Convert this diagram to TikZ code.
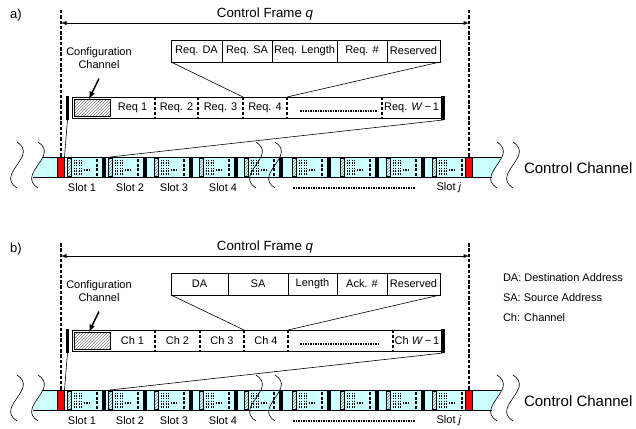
\documentclass[tikz,border=0pt]{standalone}
\usepackage{fontspec}
\setmainfont{Liberation Sans}
\usetikzlibrary{arrows,patterns,positioning}
\definecolor{chancyan}{RGB}{204,255,255}

\tikzset{
  pics/slot/.style = {code={
    \draw[hatchbox] (0,158) rectangle (4,176);
    \foreach \d in {7,9.5,12,14.5}
      \draw[slotdots] (\d,159.5) -- (\d,174.5);
    \draw[dotline] (16.5,170) -- (24,170);
    \draw[slotdash] (30,159) -- (30,176);
    \fill (35,157) rectangle (39,177);
  }},
  pics/band/.style = {code={
    \fill[chancyan] (42,157) -- (501,157) -- (492,177) -- (33,177) -- cycle;
    \draw[line width=0.6pt] (42,157) -- (501,157) (33,177) -- (492,177);
    \foreach \s in {67,108,154,199,244,292,340,386,432}
      \pic at (\s,0) {slot};
    \foreach \w in {17,38,256,275,497,513}
      \draw[wave] (\w,142) .. controls (\w+22,156) and (\w-22,174) .. (\w,188);
    \node[redbox] (-redl) at (61,167) {};
    \node[redbox] (-redr) at (469,167) {};
    \coordinate (-s2) at (110,157);
    \node (-sl1) at (82,188) {Slot 1};
    \node (-sl2) at (130,188) {Slot 2};
    \node (-sl3) at (174,188) {Slot 3};
    \node (-sl4) at (223,188) {Slot 4};
    \draw[dotline] (293,188) -- (415,188);
    \node (-slj) at (449,188) {Slot \textit{j}};
    \node[font=\fontsize{15}{17}\selectfont, anchor=west] (-name) at (524,168) {Control Channel};
  }},
}

\begin{document}
\begin{tikzpicture}[
                   x = 1pt,
                   y = -1pt,
   every node/.style = {inner sep=0pt, outer sep=0pt, font=\fontsize{11}{13}\selectfont},
        field/.style = {draw, line width=0.6pt, minimum height=22pt},
         cell/.style = {minimum height=21pt},
       endbar/.style = {fill=black, minimum width=3.5pt, minimum height=24pt},
     hatchbox/.style = {draw, line width=0.5pt, pattern=north east lines, pattern color=gray},
       redbox/.style = {draw, fill=red, line width=0.6pt, minimum width=7pt, minimum height=20pt},
      divider/.style = {line width=1.1pt, dash pattern=on 3pt off 2pt},
      dotline/.style = {line width=2pt, dash pattern=on 1.5pt off 1pt},
     slotdots/.style = {line width=1pt, dash pattern=on 1.5pt off 1.2pt},
     slotdash/.style = {line width=1.3pt, dash pattern=on 3pt off 1.5pt},
         wave/.style = {line width=0.6pt},
    framedash/.style = {line width=1.4pt, dash pattern=on 3.5pt off 1.8pt},
   framearrow/.style = {latex-latex, line width=0.9pt},
     cfgarrow/.style = {-latex, line width=1.5pt},
          fan/.style = {line width=0.6pt},
                   ]
\useasboundingbox (0,0) rectangle (636,428);

% a) request frame
\node[font=\fontsize{13}{15}\selectfont] (alab) at (16,15) {a)};
\pic (a) at (0,0) {band};
\coordinate (atopl) at (61,10);
\coordinate (atopr) at (469,10);
\draw[framedash] (atopl) -- (a-redl.north);
\draw[framedash] (atopr) -- (a-redr.north);
\draw[framearrow] ([yshift=-13pt]atopl) -- node[above=3pt, font=\fontsize{13.3}{15}\selectfont] (aframelab) {Control Frame \textit{q}} ([yshift=-13pt]atopr);

\node[field, minimum width=51pt, anchor=north west] (ada) at (171,40) {Req. DA};
\node[field, minimum width=50pt, right=0pt of ada] (asa) {Req. SA};
\node[field, minimum width=65pt, right=0pt of asa] (alen) {Req. Length};
\node[field, minimum width=50pt, right=0pt of alen] (anum) {Req. \#};
\node[field, minimum width=53pt, right=0pt of anum] (ares) {Reserved};

\node[draw, line width=0.7pt, minimum width=369pt, minimum height=21pt, anchor=north west] (aframe) at (72,97) {};
\node[endbar] (alb) at (67.5,108) {};
\node[endbar] (arb) at (443,108) {};
\node[hatchbox, minimum width=36pt, minimum height=17pt] (acfg) at (92,107.5) {};
\node[cell, minimum width=45pt, right=0pt of acfg] (ar1) {Req 1};
\node[cell, minimum width=43pt, right=0pt of ar1] (ar2) {Req. 2};
\node[cell, minimum width=45pt, right=0pt of ar2] (ar3) {Req. 3};
\node[cell, minimum width=44pt, right=0pt of ar3] (ar4) {Req. 4};
\node[cell, minimum width=95pt, right=0pt of ar4] (adots) {};
\node[cell, minimum width=59pt, right=0pt of adots] (arw) {Req. \textit{W}\,−\,1};
\foreach \c in {ar1,ar2,ar3,ar4,adots}
  \draw[divider] (\c.north east) -- (\c.south east);
\draw[dotline] ([xshift=13pt,yshift=-3pt]adots.west) -- ([xshift=-5pt,yshift=-3pt]adots.east);

\node[align=center] (acfgtxt) at (99,58) {Configuration\\Channel};
\draw[cfgarrow] ([yshift=-10pt]acfgtxt.south) -- ([xshift=-3pt]acfg.north);

\draw[fan] (ada.south west) -- (ar4.north west);
\draw[fan] (ares.south east) -- (ar4.north east);
\draw[fan] (alb.south) -- (a-redl.north east);
\draw[fan] (arb.south) -- (a-s2);

% b) acknowledgement frame
\begin{scope}[shift={(0,233)}]
\node[font=\fontsize{13}{15}\selectfont] (blab) at (16,16) {b)};
\pic (b) at (0,0) {band};
\coordinate (btopl) at (61,10);
\coordinate (btopr) at (469,10);
\draw[framedash] (btopl) -- (b-redl.north);
\draw[framedash] (btopr) -- (b-redr.north);
\draw[framearrow] ([yshift=-13pt]btopl) -- node[above=3pt, font=\fontsize{13.3}{15}\selectfont] (bframelab) {Control Frame \textit{q}} ([yshift=-13pt]btopr);

\node[field, minimum width=57pt, anchor=north west] (bda) at (171,40) {DA};
\node[field, minimum width=60pt, right=0pt of bda] (bsa) {SA};
\node[field, minimum width=49pt, right=0pt of bsa] (blen) {Length};
\node[field, minimum width=50pt, right=0pt of blen] (bnum) {Ack. \#};
\node[field, minimum width=53pt, right=0pt of bnum] (bres) {Reserved};

\node[draw, line width=0.7pt, minimum width=369pt, minimum height=21pt, anchor=north west] (bframe) at (72,97) {};
\node[endbar] (blb) at (67.5,108) {};
\node[endbar] (brb) at (443,108) {};
\node[hatchbox, minimum width=36pt, minimum height=17pt] (bcfg) at (92,107.5) {};
\node[cell, minimum width=45pt, right=0pt of bcfg] (bc1) {Ch 1};
\node[cell, minimum width=45pt, right=0pt of bc1] (bc2) {Ch 2};
\node[cell, minimum width=44pt, right=0pt of bc2] (bc3) {Ch 3};
\node[cell, minimum width=44pt, right=0pt of bc3] (bc4) {Ch 4};
\node[cell, minimum width=105pt, right=0pt of bc4] (bdots) {};
\node[cell, minimum width=48pt, right=0pt of bdots] (bcw) {Ch \textit{W}\,−\,1};
\foreach \c in {bc1,bc2,bc3,bc4,bdots}
  \draw[divider] (\c.north east) -- (\c.south east);
\draw[dotline] ([xshift=12pt,yshift=-3pt]bdots.west) -- ([xshift=-15pt,yshift=-3pt]bdots.east);

\node[align=center] (bcfgtxt) at (99,58) {Configuration\\Channel};
\draw[cfgarrow] ([yshift=-10pt]bcfgtxt.south) -- ([xshift=-3pt]bcfg.north);

\draw[fan] (bda.south west) -- (bc4.north west);
\draw[fan] (bres.south east) -- (bc4.north east);
\draw[fan] (blb.south) -- (b-redl.north east);
\draw[fan] (brb.south) -- (b-s2);

\node[anchor=west] (bkey1) at (503,45) {DA: Destination Address};
\node[anchor=west] (bkey2) at (503,65) {SA: Source Address};
\node[anchor=west] (bkey3) at (503,85) {Ch: Channel};
\end{scope}
\end{tikzpicture}
\end{document}
